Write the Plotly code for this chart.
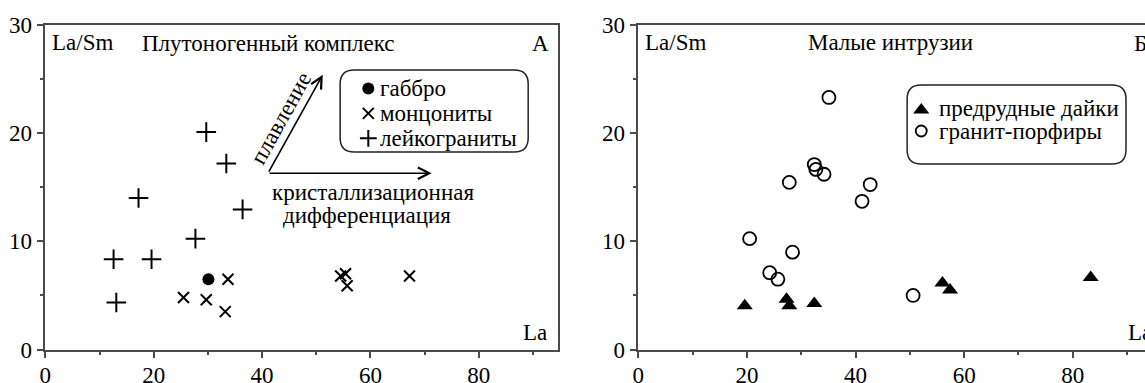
import plotly.graph_objects as go

# ---------------- data ----------------
gabbro_la = [30.1]
gabbro_lasm = [6.5]
monz_la = [25.5, 29.7, 33.2, 33.7, 54.5, 55.4, 55.7, 67.2]
monz_lasm = [4.8, 4.6, 3.5, 6.5, 6.8, 7.0, 5.9, 6.8]
leuco_la = [29.7, 33.4, 17.2, 36.4, 27.7, 12.6, 19.6, 13.1]
leuco_lasm = [20.1, 17.2, 14.0, 12.95, 10.25, 8.35, 8.35, 4.35]

dykes_la = [19.6, 27.3, 27.8, 32.4, 56.0, 57.4, 83.3]
dykes_lasm = [4.05, 4.65, 4.05, 4.25, 6.15, 5.5, 6.65]
porph_la = [35.1, 32.4, 32.7, 34.2, 27.8, 42.7, 41.2, 20.5, 28.4, 24.2, 25.7, 50.6]
porph_lasm = [23.3, 17.1, 16.65, 16.2, 15.45, 15.25, 13.7, 10.25, 9.0, 7.1, 6.5, 5.0]

x_ticks = [0, 20, 40, 60, 80]
y_ticks = [0, 10, 20, 30]

legend_a = ["габбро", "монцониты", "лейкограниты"]
legend_b = ["предрудные дайки", "гранит-порфиры"]

FONT = '"Liberation Serif", "Times New Roman", serif'
FS = 23
W, H = 1145, 383
AX = "#4a4a4a"

fig = go.Figure()

# ---- panel A data ----
fig.add_trace(go.Scatter(x=gabbro_la, y=gabbro_lasm, mode="markers", xaxis="x", yaxis="y",
                         marker=dict(symbol="circle", size=12, color="black"), hoverinfo="skip"))
fig.add_trace(go.Scatter(x=monz_la, y=monz_lasm, mode="markers", xaxis="x", yaxis="y",
                         marker=dict(symbol="x-thin", size=11, line=dict(width=2, color="black")), hoverinfo="skip"))
fig.add_trace(go.Scatter(x=leuco_la, y=leuco_lasm, mode="markers", xaxis="x", yaxis="y",
                         marker=dict(symbol="cross-thin", size=14, line=dict(width=2, color="black")), hoverinfo="skip"))

# ---- panel B data ----
fig.add_trace(go.Scatter(x=dykes_la, y=dykes_lasm, mode="markers", xaxis="x2", yaxis="y2",
                         marker=dict(symbol="triangle-up", size=14, color="black"), hoverinfo="skip"))
fig.add_trace(go.Scatter(x=porph_la, y=porph_lasm, mode="markers", xaxis="x2", yaxis="y2",
                         marker=dict(symbol="circle-open", size=13, color="black", line=dict(width=1.8)), hoverinfo="skip"))

# ---- legend keys (layout elements) ----
leg_a_x = 59.6
leg_a_y = [24.14, 21.83, 19.52]
fig.add_trace(go.Scatter(x=[leg_a_x], y=[leg_a_y[0]], mode="markers", xaxis="x", yaxis="y",
                         marker=dict(symbol="circle", size=12, color="black"), hoverinfo="skip"))
fig.add_trace(go.Scatter(x=[leg_a_x], y=[leg_a_y[1]], mode="markers", xaxis="x", yaxis="y",
                         marker=dict(symbol="x-thin", size=11, line=dict(width=2, color="black")), hoverinfo="skip"))
fig.add_trace(go.Scatter(x=[leg_a_x], y=[leg_a_y[2]], mode="markers", xaxis="x", yaxis="y",
                         marker=dict(symbol="cross-thin", size=12, line=dict(width=2, color="black")), hoverinfo="skip"))
leg_b_x = 52.1
leg_b_y = [22.3, 20.2]
fig.add_trace(go.Scatter(x=[leg_b_x], y=[leg_b_y[0] - 0.15], mode="markers", xaxis="x2", yaxis="y2",
                         marker=dict(symbol="triangle-up", size=14, color="black"), hoverinfo="skip"))
fig.add_trace(go.Scatter(x=[leg_b_x], y=[leg_b_y[1]], mode="markers", xaxis="x2", yaxis="y2",
                         marker=dict(symbol="circle-open", size=11, color="black", line=dict(width=1.8)), hoverinfo="skip"))

def rounded_rect(x0, x1, y0, y1, rx, ry):
    return (f"M{x0+rx},{y1} L{x1-rx},{y1} Q{x1},{y1} {x1},{y1-ry} "
            f"L{x1},{y0+ry} Q{x1},{y0} {x1-rx},{y0} L{x0+rx},{y0} "
            f"Q{x0},{y0} {x0},{y0+ry} L{x0},{y1-ry} Q{x0},{y1} {x0+rx},{y1} Z")

PXU_X = 5.42
PXU_Y = 10.82
R = 14
shapes = [
    dict(type="path", xref="x", yref="y",
         path=rounded_rect(54.4, 89.1, 18.25, 25.83, R / PXU_X, R / PXU_Y),
         line=dict(color="#222", width=1.5)),
    dict(type="path", xref="x2", yref="y2",
         path=rounded_rect(49.5, 89.8, 17.14, 24.45, R / PXU_X, R / PXU_Y),
         line=dict(color="#222", width=1.5)),
]

def txt(x, y, s, xref="x", yref="y", xanchor="center", angle=0, size=FS):
    return dict(x=x, y=y, xref=xref, yref=yref, text=s, showarrow=False,
                xanchor=xanchor, yanchor="middle", textangle=angle,
                font=dict(family=FONT, size=size, color="black"))

ann = [
    txt(6.9, 28.4, "La/Sm"),
    txt(41.2, 28.3, "Плутоногенный комплекс"),
    txt(91.3, 28.3, "A"),
    txt(90.4, 1.6, "La"),
    txt(61.4, leg_a_y[0], legend_a[0], xanchor="left"),
    txt(61.4, leg_a_y[1], legend_a[1], xanchor="left"),
    txt(61.4, leg_a_y[2], legend_a[2], xanchor="left"),
    txt(60.5, 14.5, "кристаллизационная"),
    txt(59.3, 12.35, "дифференциация"),
    txt(43.4, 21.4, "плавление", angle=-61),
    txt(6.9, 28.4, "La/Sm", xref="x2", yref="y2"),
    txt(46.5, 28.4, "Малые интрузии", xref="x2", yref="y2"),
    txt(90.9, 28.3, "Б", xref="x2", yref="y2", xanchor="left"),
    txt(89.8, 1.6, "La", xref="x2", yref="y2", xanchor="left"),
    txt(55.0, leg_b_y[0], legend_b[0], xref="x2", yref="y2", xanchor="left"),
    txt(55.0, leg_b_y[1], legend_b[1], xref="x2", yref="y2", xanchor="left"),
    # arrows
    dict(x=71.3, y=16.3, ax=41.1, ay=16.3, xref="x", yref="y", axref="x", ayref="y",
         text="", showarrow=True, arrowhead=5, arrowsize=1.4, arrowwidth=1.6, arrowcolor="black", standoff=0),
    dict(x=51.2, y=25.4, ax=41.1, ay=16.3, xref="x", yref="y", axref="x", ayref="y",
         text="", showarrow=True, arrowhead=5, arrowsize=1.4, arrowwidth=1.6, arrowcolor="black", standoff=0),
]

def xax(domain, rng, anchor):
    return dict(domain=domain, range=rng, anchor=anchor, tickvals=x_ticks, ticks="outside",
                ticklen=7, tickwidth=1.5, tickcolor=AX, showline=True, linecolor=AX, linewidth=1.5,
                showgrid=False, zeroline=False, mirror=True, ticklabelstandoff=-3,
                minor=dict(tickvals=[10, 30, 50, 70, 90], ticks="outside", ticklen=4, tickwidth=1.5, tickcolor=AX),
                tickfont=dict(family=FONT, size=FS, color="black"), automargin=False, fixedrange=True)

def yax(domain, anchor, mirror):
    return dict(domain=domain, range=[0, 30], anchor=anchor, tickvals=y_ticks, ticks="outside",
                ticklen=7, tickwidth=1.5, tickcolor=AX, showline=True, linecolor=AX, linewidth=1.5,
                showgrid=False, zeroline=False, mirror=mirror,
                minor=dict(tickvals=[5, 15, 25], ticks="outside", ticklen=4, tickwidth=1.5, tickcolor=AX),
                tickfont=dict(family=FONT, size=FS, color="black"), automargin=False, fixedrange=True)

ydom = [1 - 349.5 / H, 1 - 25 / H]
fig.update_layout(
    width=W, height=H, margin=dict(l=0, r=0, t=0, b=0),
    paper_bgcolor="white", plot_bgcolor="white", showlegend=False,
    xaxis=xax([45.3 / W, 558 / W], [0, 94.6], "y"),
    yaxis=yax(ydom, "x", True),
    xaxis2=xax([638.3 / W, 1.0], [0, 93.3], "y2"),
    yaxis2=yax(ydom, "x2", False),
    shapes=shapes, annotations=ann,
    font=dict(family=FONT, size=FS, color="black"),
)

fig.write_html("out.html", config={"displayModeBar": False},
               post_script="document.body.style.margin='0';document.body.style.overflow='hidden';")
